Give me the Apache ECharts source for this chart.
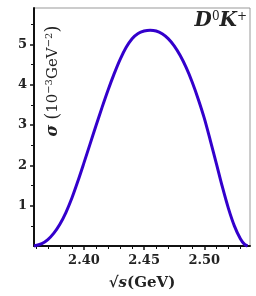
<!DOCTYPE html>
<html>
<head>
<meta charset="utf-8">
<script src="https://cdn.jsdelivr.net/npm/echarts@6/dist/echarts.min.js"></script>
<style>
html,body{margin:0;padding:0;background:#fff;}
#c{width:256px;height:296px;}
</style>
</head>
<body>
<div id="c"></div>
<script>
// Data
const energy = [2.3585, 2.365, 2.370, 2.375, 2.380, 2.385, 2.390, 2.395, 2.400, 2.405, 2.410, 2.415, 2.420, 2.425, 2.430, 2.435, 2.440, 2.445, 2.450, 2.455, 2.460, 2.465, 2.470, 2.475, 2.480, 2.485, 2.490, 2.495, 2.500, 2.505, 2.510, 2.515, 2.520, 2.525, 2.530, 2.5335, 2.536];
const sigma  = [0, 0.06, 0.16, 0.32, 0.54, 0.83, 1.19, 1.61, 2.06, 2.52, 2.98, 3.43, 3.86, 4.26, 4.62, 4.92, 5.14, 5.27, 5.33, 5.35, 5.33, 5.26, 5.14, 4.96, 4.72, 4.42, 4.06, 3.64, 3.17, 2.62, 2.05, 1.47, 0.94, 0.50, 0.18, 0.04, 0];
const xMajorTicks = [2.40, 2.45, 2.50];
const xMinorTicks = [2.36, 2.37, 2.38, 2.39, 2.41, 2.42, 2.43, 2.44, 2.46, 2.47, 2.48, 2.49, 2.51, 2.52, 2.53];
const yMajorTicks = [1, 2, 3, 4, 5];
const yMinorTicks = [0.5, 1.5, 2.5, 3.5, 4.5, 5.5];
const xRange = [2.3585, 2.538];
const yRange = [0, 5.9];

const chart = echarts.init(document.getElementById('c'), null, {renderer: 'canvas'});
const serif = 'DejaVu Serif';
const labelStyle = {fontFamily: serif, fontWeight: 'bold', fontSize: 13, color: '#222'};

const option = {
  animation: false,
  backgroundColor: '#fff',
  grid: {left: 34, right: 6, top: 8, bottom: 46, show: true, borderColor: '#999', borderWidth: 1},
  xAxis: [
    {
      type: 'value', min: xRange[0], max: xRange[1],
      axisLine: {show: true, lineStyle: {color: '#111', width: 2}},
      axisTick: {show: true, customValues: xMajorTicks, length: 4, inside: false, lineStyle: {color: '#111', width: 1.5}},
      axisLabel: {show: true, customValues: xMajorTicks, margin: 8, formatter: v => v.toFixed(2), ...labelStyle},
      splitLine: {show: false},
      name: '√{s|s}(GeV)', nameLocation: 'middle', nameGap: 30,
      nameTextStyle: {fontFamily: serif, fontWeight: 'bold', fontSize: 15, color: '#222', rich: {s: {fontFamily: serif, fontWeight: 'bold', fontStyle: 'italic', fontSize: 15, color: '#222'}}}
    },
    {
      type: 'value', min: xRange[0], max: xRange[1], position: 'bottom',
      axisLine: {show: false},
      axisTick: {show: true, customValues: xMinorTicks, length: 3, lineStyle: {color: '#111', width: 1}},
      axisLabel: {show: false},
      splitLine: {show: false}
    }
  ],
  yAxis: [
    {
      type: 'value', min: yRange[0], max: yRange[1],
      axisLine: {show: true, lineStyle: {color: '#111', width: 2}},
      axisTick: {show: true, customValues: yMajorTicks, length: 4, lineStyle: {color: '#111', width: 1.5}},
      axisLabel: {show: true, customValues: yMajorTicks, margin: 7, ...labelStyle},
      splitLine: {show: false}
    },
    {
      type: 'value', min: yRange[0], max: yRange[1], position: 'left',
      axisLine: {show: false},
      axisTick: {show: true, customValues: yMinorTicks, length: 3, lineStyle: {color: '#111', width: 1}},
      axisLabel: {show: false},
      splitLine: {show: false}
    }
  ],
  graphic: [
    {
      type: 'text', x: 53, y: 81, rotation: Math.PI / 2,
      style: {
        text: '{g|σ} {p|(}10{sup|−3}GeV{sup|−2}{p|)}',
        fontFamily: serif, fontSize: 15, fill: '#222',
        align: 'center', verticalAlign: 'middle',
        rich: {
          g: {fontFamily: serif, fontWeight: 'bold', fontStyle: 'italic', fontSize: 16, fill: '#222'},
          p: {fontFamily: serif, fontSize: 18, fill: '#222'},
          sup: {fontFamily: serif, fontSize: 10, fill: '#222', verticalAlign: 'top'}
        }
      }
    },
    {
      type: 'text', right: 9, top: 11,
      style: {
        text: 'D{sup|0}K{sup|+}',
        fontFamily: serif, fontWeight: 'bold', fontStyle: 'italic', fontSize: 20, fill: '#222',
        rich: {
          sup: {fontFamily: serif, fontSize: 12, fill: '#222', verticalAlign: 'top'}
        }
      }
    }
  ],
  series: [{
    type: 'line', xAxisIndex: 0, yAxisIndex: 0,
    data: energy.map((e, i) => [e, sigma[i]]),
    showSymbol: false, smooth: 0.3,
    lineStyle: {color: '#3300cc', width: 3},
    clip: false
  }]
};
chart.setOption(option);
</script>
</body>
</html>
